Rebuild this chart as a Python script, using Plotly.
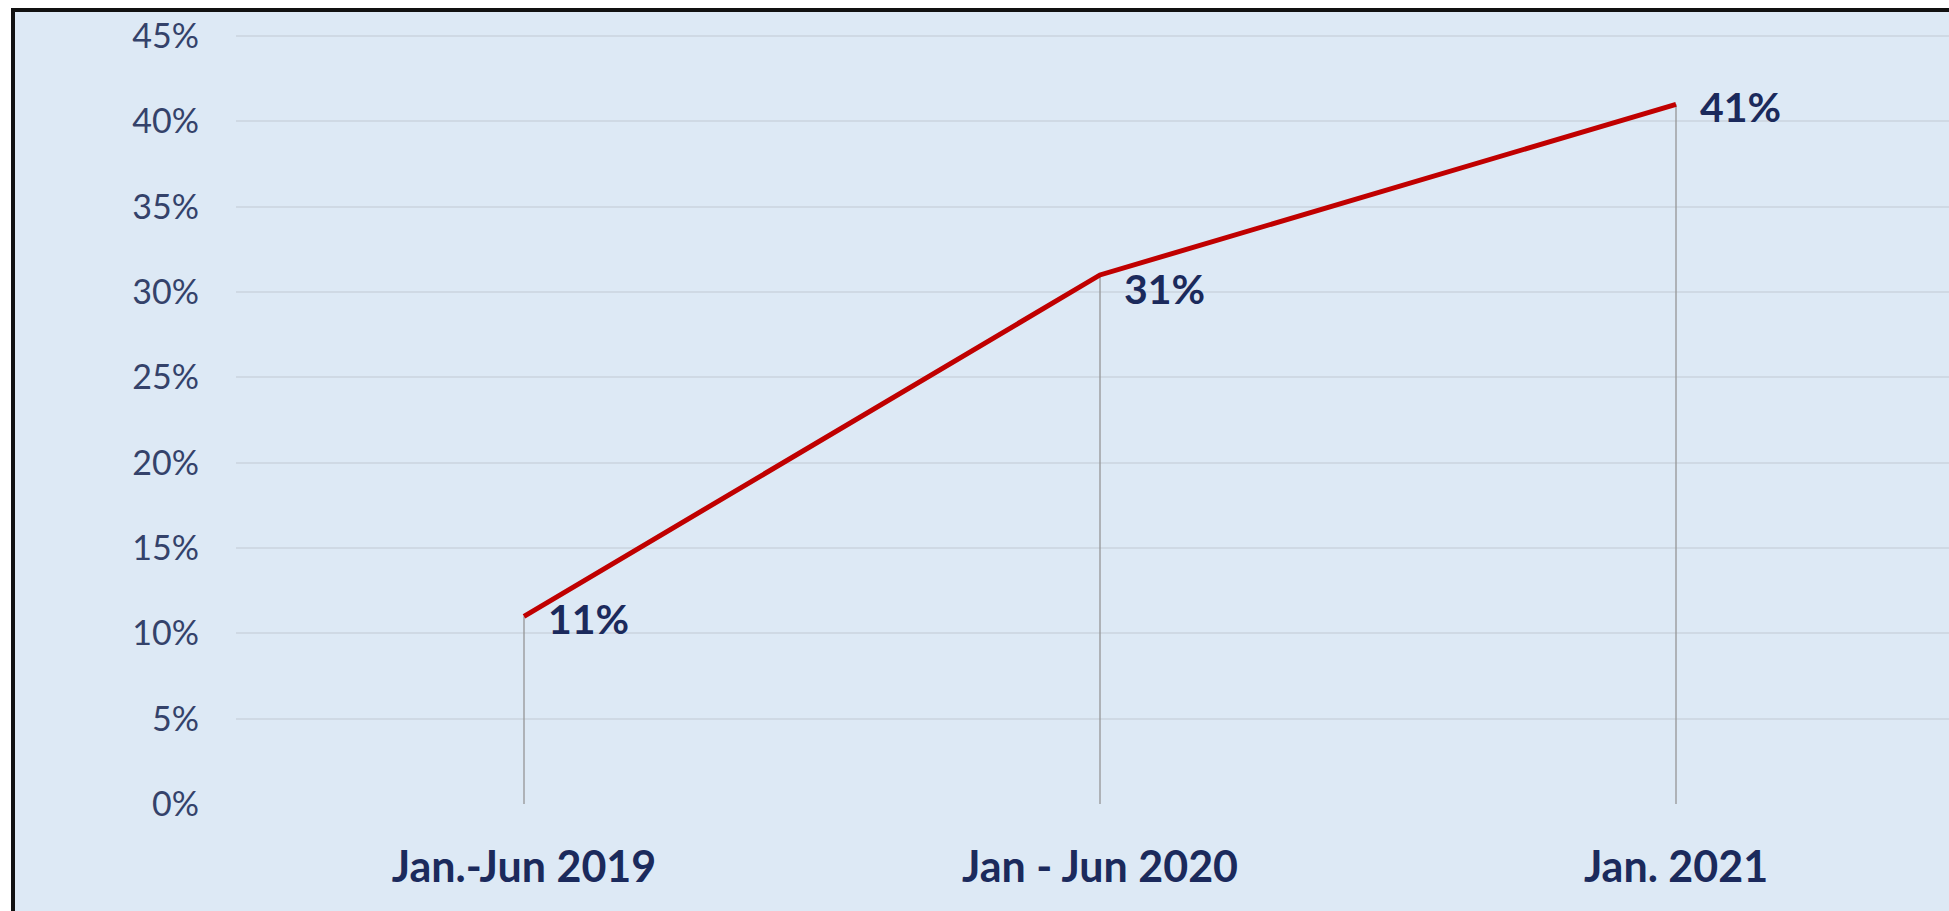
import plotly.graph_objects as go

categories = ["Jan.-Jun 2019", "Jan - Jun 2020", "Jan. 2021"]
values = [11, 31, 41]
label_texts = ["11%", "31%", "41%"]
y_ticks = [0, 5, 10, 15, 20, 25, 30, 35, 40, 45]
y_tick_labels = [f"{v}%" for v in y_ticks]

W, H = 1949, 911
L, R, T, B = 236, 0, 34, 107
pw, ph = W - L - R, H - T - B

def px2x(px):
    return (px - L) / pw

def py2y(py):
    return (H - B - py) / ph

xs = list(range(len(categories)))

drop_x, drop_y = [], []
for x, v in zip(xs, values):
    drop_x += [x, x, None]
    drop_y += [0, v, None]

fig = go.Figure()
fig.add_trace(go.Scatter(x=drop_x, y=drop_y, mode="lines",
                         line=dict(color="#959595", width=1.3),
                         hoverinfo="skip", showlegend=False))
fig.add_trace(go.Scatter(x=xs, y=values, mode="lines",
                         line=dict(color="#C00000", width=5),
                         showlegend=False))

for x, v, t in zip(xs, values, label_texts):
    fig.add_annotation(x=x, y=v, text=f"<b>{t}</b>", showarrow=False,
                       xanchor="left", yanchor="middle", xshift=22,
                       yshift=-2 if v != 31 else -14,
                       font=dict(family="Lato", size=41, color="#1B2A5C"))

bg = "#DDE9F5"
shapes = [
    dict(type="rect", xref="paper", yref="paper", x0=px2x(-5), x1=px2x(W + 5),
         y0=py2y(-5), y1=py2y(8), fillcolor="white", line=dict(width=0), layer="above"),
    dict(type="rect", xref="paper", yref="paper", x0=px2x(-5), x1=px2x(11),
         y0=py2y(H + 5), y1=py2y(-5), fillcolor="white", line=dict(width=0), layer="above"),
    dict(type="rect", xref="paper", yref="paper", x0=px2x(11), x1=px2x(W + 5),
         y0=py2y(12), y1=py2y(8), fillcolor="#111111", line=dict(width=0), layer="above"),
    dict(type="rect", xref="paper", yref="paper", x0=px2x(11), x1=px2x(15),
         y0=py2y(H + 5), y1=py2y(8), fillcolor="#111111", line=dict(width=0), layer="above"),
]

fig.update_layout(
    width=W, height=H,
    margin=dict(l=L, r=R, t=T, b=B, pad=0),
    paper_bgcolor=bg, plot_bgcolor=bg,
    shapes=shapes,
    xaxis=dict(range=[-0.5, (W - 524) / 576], tickmode="array", tickvals=xs,
               ticktext=[f"<b>{c}</b>" for c in categories],
               showgrid=False, zeroline=False, showline=False,
               ticks="", ticklabelstandoff=34,
               tickfont=dict(family="Lato", size=43, color="#1B2A5C")),
    yaxis=dict(range=[0, 45.12], tickmode="array", tickvals=y_ticks,
               ticktext=y_tick_labels, showgrid=True, gridcolor="#CFD9E4",
               gridwidth=2, zeroline=False, showline=False, ticks="",
               ticklabelstandoff=36,
               tickfont=dict(family="Lato", size=34, color="#34426A")),
)

fig.write_html("out.html")
